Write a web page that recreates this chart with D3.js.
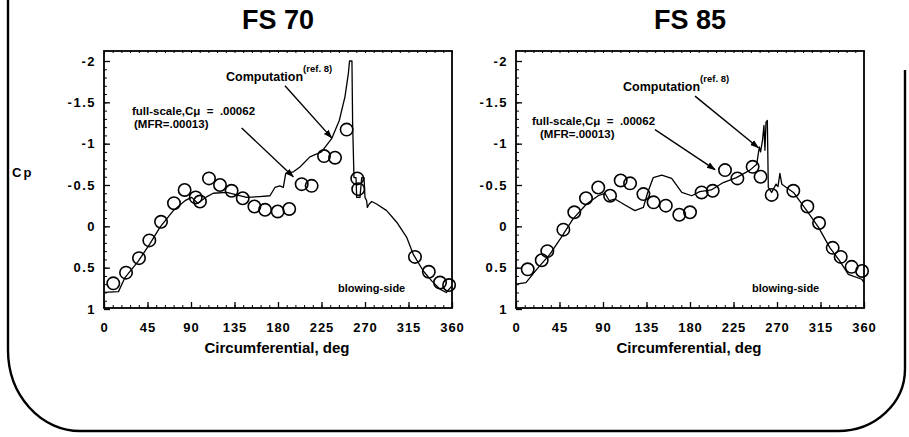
<!DOCTYPE html>
<html><head><meta charset="utf-8">
<script src="https://cdn.jsdelivr.net/npm/d3@7"></script>
<style>
html,body{margin:0;padding:0;background:#fff;}
svg{display:block;font-family:"Liberation Sans",Arial,Helvetica,sans-serif;font-weight:bold;}
</style></head>
<body><svg id="c" width="909" height="437"></svg>
<script>
// ---------- DATA ----------
const xTicks = [0,45,90,135,180,225,270,315,360];
const yTicks = [-2,-1.5,-1,-0.5,0,0.5,1];
const panelTitles = ["FS 70","FS 85"];

// FS 70 experiment (circles)
const fs70ExpDeg = [9.6,22.8,36.2,46.9,59,72.4,83.4,94.9,99.3,108.6,120,132,143.5,155.6,166.6,179.7,191.6,204.5,214.8,227.6,239,251,262,263,321.7,336,347.6,357];
const fs70ExpCp  = [0.69,0.56,0.385,0.17,-0.055,-0.28,-0.44,-0.35,-0.30,-0.58,-0.50,-0.43,-0.34,-0.24,-0.20,-0.18,-0.21,-0.51,-0.49,-0.85,-0.83,-1.17,-0.58,-0.45,0.37,0.55,0.68,0.71];
// FS 70 computation (line)
const fs70CompDeg = [0,15,21.7,35.5,47.6,58,71.7,83.8,90.7,97,106.6,113,127,147.6,161,171.7,176.8,182,185.5,188,196,203,213,225,235.5,243.4,249.3,252.8,254,256.5,257.2,258.6,260.7,261.4,264.8,266.6,269,270,271.7,272.4,274.4,276.9,282,292.4,302.8,313,320,330.3,339,347.6,354,360];
const fs70CompCp  = [0.80,0.79,0.62,0.42,0.21,0.01,-0.19,-0.31,-0.35,-0.28,-0.36,-0.40,-0.41,-0.35,-0.36,-0.37,-0.47,-0.49,-0.47,-0.64,-0.66,-0.72,-0.84,-0.90,-1.06,-1.28,-1.57,-1.85,-2.0,-2.0,-1.24,-0.59,-0.59,-0.35,-0.35,-0.59,-0.59,-0.35,-0.31,-0.23,-0.27,-0.30,-0.27,-0.19,-0.05,0.13,0.34,0.54,0.66,0.76,0.80,0.72];

// FS 85 experiment (circles)
const fs85ExpDeg = [12.1,26.6,32.4,49,60.3,72.4,85.1,97.3,108.3,118,131.8,142.3,155,168.9,180,192,203.5,216.2,229,244.8,253,264.5,286.9,301.4,313.5,327.6,335.9,347.2,358];
const fs85ExpCp  = [0.52,0.41,0.30,0.04,-0.17,-0.34,-0.47,-0.37,-0.555,-0.52,-0.39,-0.29,-0.25,-0.14,-0.17,-0.41,-0.43,-0.68,-0.58,-0.72,-0.60,-0.38,-0.43,-0.24,-0.04,0.26,0.37,0.49,0.54];
// FS 85 computation (line)
const fs85CompDeg = [0,10.3,21.4,35,47,59,73,85,92,96.5,102.4,111,123,131.8,136,142,150.8,161,171.5,181.8,190,202,214.4,228,242,249,251.7,253,255,256.5,257.5,258.6,260,261,264.5,269,271,273,275,287,300.8,312.8,324.8,335,343.8,357.6,360];
const fs85CompCp  = [0.70,0.68,0.52,0.34,0.13,-0.09,-0.27,-0.37,-0.40,-0.31,-0.33,-0.27,-0.19,-0.23,-0.40,-0.59,-0.62,-0.58,-0.41,-0.37,-0.42,-0.44,-0.53,-0.59,-0.68,-0.75,-0.96,-0.90,-1.04,-1.22,-0.92,-1.26,-1.28,-0.47,-0.41,-0.51,-0.48,-0.64,-0.51,-0.41,-0.19,0.01,0.26,0.42,0.58,0.64,0.68];

// annotation arrows (data coordinates: [deg, Cp] start -> end)
const fs70Arrows = [[[187.2,-1.70],[235.5,-1.07]],[[142.4,-1.19],[195.8,-0.60]]];
const fs85Arrows = [[[185.2,-1.575],[250.7,-0.95]],[[143.8,-1.17],[205.9,-0.685]]];

// ---------- DRAW ----------
const svg = d3.select("#c");
const defs = svg.append("defs");
defs.append("marker").attr("id","ah").attr("viewBox","0 0 10 10").attr("refX",9).attr("refY",5)
  .attr("markerWidth",9).attr("markerHeight",9).attr("markerUnits","userSpaceOnUse").attr("orient","auto")
  .append("path").attr("d","M0,1.5 L10,5 L0,8.5 Z").attr("fill","#000");

// outer rounded border
svg.append("path")
  .attr("d","M8,0 L8,350 A72,81 0 0 0 80,431 L838,431 A67,62 0 0 0 905,369 L905,70")
  .attr("fill","none").attr("stroke","#000").attr("stroke-width",2.4);

svg.append("text").attr("x",12).attr("y",177).attr("font-size",13).attr("letter-spacing",2).text("Cp");

const panels = [
  {x0:104,x1:452,title:panelTitles[0],titleX:278,expD:fs70ExpDeg,expC:fs70ExpCp,compD:fs70CompDeg,compC:fs70CompCp,arrows:fs70Arrows,
   comp:[226,81],fs:[132,115],mfr:[134,128],blow:[338,292],xlabel:277},
  {x0:516,x1:864,title:panelTitles[1],titleX:690,expD:fs85ExpDeg,expC:fs85ExpCp,compD:fs85CompDeg,compC:fs85CompCp,arrows:fs85Arrows,
   comp:[623,91],fs:[532,125],mfr:[540,138],blow:[752,292],xlabel:689}
];

panels.forEach(p=>{
  const x = d3.scaleLinear().domain([0,360]).range([p.x0,p.x1]);
  const y = d3.scaleLinear().domain([-2,1]).range([61,309]);
  const g = svg.append("g");
  const yTop = 51, yBot = 308;

  g.append("text").attr("x",p.titleX).attr("y",29).attr("text-anchor","middle")
    .attr("font-size",27).text(p.title);

  // frame
  g.append("rect").attr("x",p.x0).attr("y",yTop).attr("width",p.x1-p.x0).attr("height",yBot-yTop)
    .attr("fill","none").attr("stroke","#000").attr("stroke-width",1.8);

  // bottom axis major
  const xa = g.append("g").attr("transform",`translate(0,${yBot})`)
    .call(d3.axisBottom(x).tickValues(xTicks).tickSizeInner(-6).tickSizeOuter(0).tickPadding(15).tickFormat(d=>String(d)));
  xa.select(".domain").remove();
  xa.selectAll("line").attr("stroke-width",1.3);
  xa.selectAll("text").attr("font-size",13).attr("letter-spacing",1).attr("font-family","'Liberation Sans',Arial,sans-serif").attr("font-weight","bold");
  // bottom minor
  const xm = g.append("g").attr("transform",`translate(0,${yBot})`)
    .call(d3.axisBottom(x).tickValues(d3.range(0,361,9)).tickSizeInner(-3).tickSizeOuter(0).tickFormat(""));
  xm.select(".domain").remove();
  // top minor ticks
  const xt = g.append("g").attr("transform",`translate(0,${yTop})`)
    .call(d3.axisTop(x).tickValues(d3.range(0,361,9)).tickSizeInner(-2).tickSizeOuter(0).tickFormat(""));
  xt.select(".domain").remove();

  // left axis
  const ya = g.append("g").attr("transform",`translate(${p.x0},0)`)
    .call(d3.axisLeft(y).tickValues(yTicks).tickSizeInner(-6).tickSizeOuter(0).tickPadding(8).tickFormat(d=>String(d)));
  ya.select(".domain").remove();
  ya.selectAll("line").attr("stroke-width",1.3);
  ya.selectAll("text").attr("font-size",13).attr("letter-spacing",1.5).attr("font-family","'Liberation Sans',Arial,sans-serif").attr("font-weight","bold");
  const ym = g.append("g").attr("transform",`translate(${p.x0},0)`)
    .call(d3.axisLeft(y).tickValues(d3.range(-20,11,1).map(v=>v/10)).tickSizeInner(-3).tickSizeOuter(0).tickFormat(""));
  ym.select(".domain").remove();

  g.append("text").attr("x",p.xlabel).attr("y",353).attr("text-anchor","middle").attr("font-size",15).text("Circumferential, deg");

  // computation line
  const pts = p.compD.map((d,i)=>[d,p.compC[i]]);
  g.append("path").datum(pts)
    .attr("d",d3.line().x(d=>x(d[0])).y(d=>y(d[1])))
    .attr("fill","none").attr("stroke","#000").attr("stroke-width",1.3).attr("stroke-linejoin","round");

  // experiment circles
  g.selectAll("circle.e").data(p.expD.map((d,i)=>[d,p.expC[i]])).enter().append("circle")
    .attr("cx",d=>x(d[0])).attr("cy",d=>y(d[1])).attr("r",6.2)
    .attr("fill","none").attr("stroke","#000").attr("stroke-width",1.6);

  // arrows
  p.arrows.forEach(a=>{
    g.append("line").attr("x1",x(a[0][0])).attr("y1",y(a[0][1])).attr("x2",x(a[1][0])).attr("y2",y(a[1][1]))
      .attr("stroke","#000").attr("stroke-width",1.4).attr("marker-end","url(#ah)");
  });

  // annotations
  const t = g.append("text").attr("x",p.comp[0]).attr("y",p.comp[1]).attr("font-size",12.5);
  t.append("tspan").text("Computation");
  t.append("tspan").attr("dy",-9).attr("font-size",9.5).text("(ref. 8)");
  g.append("text").attr("x",p.fs[0]).attr("y",p.fs[1]).attr("font-size",11.5).attr("xml:space","preserve")
    .style("white-space","pre").text("full-scale,C\u03bc  =  .00062");
  g.append("text").attr("x",p.mfr[0]).attr("y",p.mfr[1]).attr("font-size",11.5).text("(MFR=.00013)");
  g.append("text").attr("x",p.blow[0]).attr("y",p.blow[1]).attr("font-size",11).text("blowing-side");
});
</script></body></html>
